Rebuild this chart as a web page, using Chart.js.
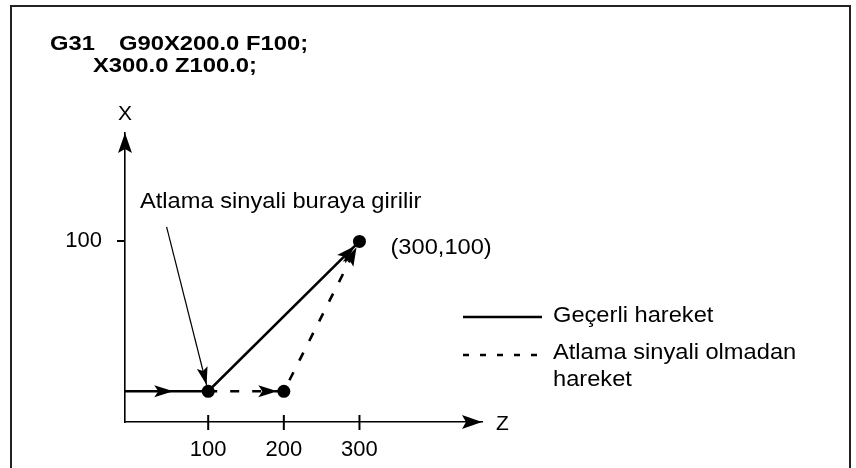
<!DOCTYPE html>
<html>
<head>
<meta charset="utf-8">
<title>G31 atlama fonksiyonu</title>
<script src="https://cdn.jsdelivr.net/npm/chart.js@4.4.1/dist/chart.umd.min.js"></script>
<style>
  html, body { margin: 0; padding: 0; background: #fff; }
  #chart { display: block; }
</style>
</head>
<body>
<canvas id="chart" width="856" height="468"></canvas>
<script>
// program shown above the sketch
const codeLines = ['G31', 'G90X200.0 F100;', 'X300.0 Z100.0;'];

// real movement (skip signal comes in at Z=100)
const pathZ = [-10, 100, 300];
const pathX = [17, 17, 100];

// movement if no skip signal came
const skipZ = [100, 200, 300];
const skipX = [17, 17, 100];

// black dots
const dotZ = [100, 200, 300];
const dotX = [17, 17, 100];

const zTicks = [100, 200, 300];
const xTicks = [100];

const legendLabels = ['Geçerli hareket', 'Atlama sinyali olmadan', 'hareket'];
const noteText = 'Atlama sinyali buraya girilir';
const noteFrom = [45, 108]; // leader line start, in Z / X units
const endLabel = '(300,100)';

const FONT = "'Liberation Sans', Arial, Helvetica, sans-serif";
const DOT_R = 6.5;

const toPoints = (zs, xs) => zs.map((z, i) => ({ x: z, y: xs[i] }));

function text(ctx, str, x, y, size, bold, sx, align) {
  ctx.save();
  ctx.font = (bold ? 'bold ' : '') + size + 'px ' + FONT;
  ctx.fillStyle = '#000';
  ctx.textAlign = align || 'left';
  ctx.textBaseline = 'alphabetic';
  ctx.translate(x, y);
  ctx.scale(sx || 1, 1);
  ctx.fillText(str, 0, 0);
  ctx.restore();
}

function arrowHead(ctx, tx, ty, dx, dy, len, half, notch) {
  const d = Math.hypot(dx, dy);
  const ux = dx / d, uy = dy / d;
  const nx = -uy, ny = ux;
  const bx = tx - ux * len, by = ty - uy * len;
  ctx.beginPath();
  ctx.moveTo(tx, ty);
  ctx.lineTo(bx + nx * half, by + ny * half);
  ctx.lineTo(tx - ux * (len - notch), ty - uy * (len - notch));
  ctx.lineTo(bx - nx * half, by - ny * half);
  ctx.closePath();
  ctx.fill();
}

// tip placed on the edge of the dot at the end of segment a->b
function tipBefore(a, b, r) {
  const d = Math.hypot(b[0] - a[0], b[1] - a[1]);
  return [b[0] - (b[0] - a[0]) / d * r, b[1] - (b[1] - a[1]) / d * r];
}

const framePlugin = {
  id: 'frame',
  beforeDraw(chart) {
    const ctx = chart.ctx;
    ctx.save();
    ctx.fillStyle = '#fff';
    ctx.fillRect(0, 0, chart.width, chart.height);
    ctx.strokeStyle = '#222';
    ctx.lineWidth = 2;
    ctx.beginPath();
    ctx.moveTo(11, chart.height);
    ctx.lineTo(11, 6);
    ctx.lineTo(850, 6);
    ctx.lineTo(850, chart.height);
    ctx.stroke();
    ctx.restore();
  }
};

const sketchPlugin = {
  id: 'sketch',
  afterDraw(chart) {
    const ctx = chart.ctx;
    const area = chart.chartArea;
    const sx = chart.scales.x, sy = chart.scales.y;
    const px = (z, x) => [sx.getPixelForValue(z), sy.getPixelForValue(x)];

    ctx.save();
    ctx.fillStyle = '#000';
    ctx.strokeStyle = '#000';

    // axis arrows
    arrowHead(ctx, area.left, area.top, 0, -1, 20, 7, 4);
    arrowHead(ctx, area.right, area.bottom, 1, 0, 20, 7, 4);

    // Z ticks cross the axis
    ctx.lineWidth = 2;
    zTicks.forEach(v => {
      const x = sx.getPixelForValue(v);
      ctx.beginPath();
      ctx.moveTo(x, area.bottom - 7);
      ctx.lineTo(x, area.bottom + 8);
      ctx.stroke();
    });

    text(ctx, 'X', area.left, area.top - 13, 21, false, 1, 'center');
    text(ctx, 'Z', area.right + 14, area.bottom + 8, 21, false, 1, 'left');

    // arrows on the paths
    let a = px(pathZ[0], pathX[0]), b = px(pathZ[1], pathX[1]);
    let t = [a[0] + (b[0] - a[0]) * 0.58, a[1] + (b[1] - a[1]) * 0.58];
    arrowHead(ctx, t[0], t[1], b[0] - a[0], b[1] - a[1], 19, 6, 4);

    a = px(pathZ[1], pathX[1]); b = px(pathZ[2], pathX[2]);
    t = tipBefore(a, b, DOT_R);
    arrowHead(ctx, t[0], t[1], b[0] - a[0], b[1] - a[1], 19, 6, 4);

    a = px(skipZ[0], skipX[0]); b = px(skipZ[1], skipX[1]);
    t = tipBefore(a, b, DOT_R);
    arrowHead(ctx, t[0], t[1], b[0] - a[0], b[1] - a[1], 19, 6, 4);

    a = px(skipZ[1], skipX[1]); b = px(skipZ[2], skipX[2]);
    t = tipBefore(a, b, DOT_R);
    arrowHead(ctx, t[0], t[1], b[0] - a[0], b[1] - a[1], 19, 6, 4);

    // leader line for the note
    a = px(noteFrom[0], noteFrom[1]); b = px(dotZ[0], dotX[0]);
    t = tipBefore(a, b, DOT_R);
    ctx.lineWidth = 1.2;
    ctx.beginPath();
    ctx.moveTo(a[0], a[1]);
    ctx.lineTo(t[0], t[1]);
    ctx.stroke();
    arrowHead(ctx, t[0], t[1], b[0] - a[0], b[1] - a[1], 18, 5.5, 3.5);

    // texts
    text(ctx, codeLines[0], 50, 50, 20.5, true, 1.16);
    text(ctx, codeLines[1], 119, 50, 20.5, true, 1.16);
    text(ctx, codeLines[2], 93, 72, 20.5, true, 1.16);
    text(ctx, noteText, 140, 208, 22, false, 1.075);
    const end = px(pathZ[2], pathX[2]);
    text(ctx, endLabel, end[0] + 31, end[1] + 13, 22, false, 1.075);

    // legend
    ctx.lineWidth = 2.6;
    ctx.beginPath();
    ctx.moveTo(463, 317);
    ctx.lineTo(542, 317);
    ctx.stroke();
    ctx.setLineDash([6, 11]);
    ctx.beginPath();
    ctx.moveTo(463, 355);
    ctx.lineTo(542, 355);
    ctx.stroke();
    ctx.setLineDash([]);
    text(ctx, legendLabels[0], 553, 322, 22, false, 1.075);
    text(ctx, legendLabels[1], 553, 359, 22, false, 1.075);
    text(ctx, legendLabels[2], 553, 386, 22, false, 1.075);

    ctx.restore();
  }
};

const ctx = document.getElementById('chart');

new Chart(ctx, {
  type: 'scatter',
  data: {
    datasets: [
      {
        label: legendLabels[0],
        data: toPoints(pathZ, pathX),
        showLine: true,
        borderColor: '#000',
        borderWidth: 2.6,
        pointRadius: 0,
        clip: false
      },
      {
        label: legendLabels[1] + ' ' + legendLabels[2],
        data: toPoints(skipZ, skipX),
        showLine: true,
        borderColor: '#000',
        borderWidth: 2.6,
        borderDash: [9, 13],
        pointRadius: 0,
        clip: false
      },
      {
        label: 'dots',
        data: toPoints(dotZ, dotX),
        showLine: false,
        pointRadius: DOT_R,
        pointBackgroundColor: '#000',
        pointBorderWidth: 0,
        clip: false
      }
    ]
  },
  options: {
    responsive: false,
    animation: false,
    events: [],
    layout: { padding: { left: 0, top: 133, right: 374, bottom: 0 } },
    plugins: {
      legend: { display: false },
      title: { display: false },
      tooltip: { enabled: false }
    },
    scales: {
      x: {
        type: 'linear',
        min: -10,
        max: 462,
        afterBuildTicks: (scale) => { scale.ticks = zTicks.map(v => ({ value: v })); },
        afterFit: (scale) => { scale.height = 46; },
        grid: { display: false, drawTicks: false },
        border: { display: true, color: '#000', width: 1.6 },
        ticks: { padding: 15, color: '#000', font: { family: FONT, size: 22 } }
      },
      y: {
        type: 'linear',
        min: 0,
        max: 160,
        afterBuildTicks: (scale) => { scale.ticks = xTicks.map(v => ({ value: v })); },
        afterFit: (scale) => { scale.width = 125; },
        grid: { display: true, drawOnChartArea: false, drawTicks: true, tickLength: 8, lineWidth: 2, color: '#000' },
        border: { display: true, color: '#000', width: 1.6 },
        ticks: { padding: 15, color: '#000', font: { family: FONT, size: 22 } }
      }
    }
  },
  plugins: [framePlugin, sketchPlugin]
});
</script>
</body>
</html>
